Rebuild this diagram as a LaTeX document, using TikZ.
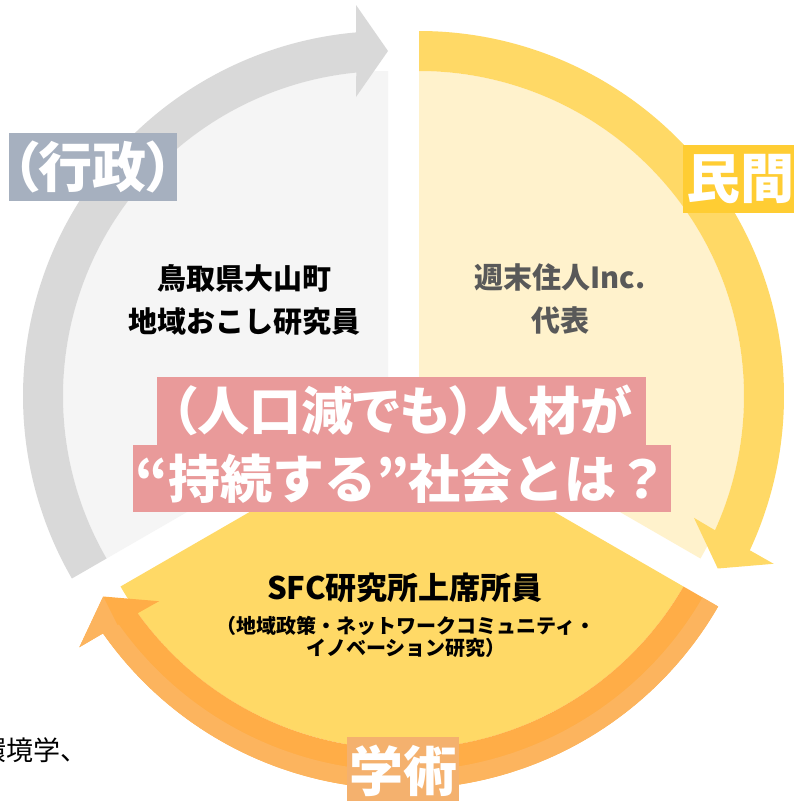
\documentclass[tikz,border=0pt]{standalone}
\usepackage{fontspec}
\newfontfamily\jp{Noto Sans CJK JP}
\newfontfamily\jpp{Noto Sans CJK JP}[RawFeature=+palt]
\usetikzlibrary{calc}
\definecolor{bandgray}{HTML}{D9D9D9}
\definecolor{palegray}{HTML}{F5F5F5}
\definecolor{paleyellow}{HTML}{FFF2CC}
\definecolor{yellowband}{HTML}{FFD966}
\definecolor{orangedark}{HTML}{FFAD47}
\definecolor{orangelight}{HTML}{FCB45E}
\definecolor{govlabel}{HTML}{A6B0BF}
\definecolor{privlabel}{HTML}{FFCD33}
\definecolor{acadlabel}{HTML}{F4B16E}
\definecolor{pinkbg}{HTML}{E99A9A}
\definecolor{textgray}{HTML}{595959}
% #1 vertex, #2 start angle, #3 end angle (tip), #4 fill
\newcommand{\cyclearrow}[4]{%
  \begin{scope}[shift={(#1)}]
    \fill[#4] ({#2}:325) -- ({#2}:365)
      arc[start angle={#2}, end angle={#3+5.0}, radius=365]
      -- ($({#3}:391)+({#3+90}:32)$) -- ({#3}:345)
      -- ($({#3}:299)+({#3+90}:32)$) -- ({#3+5.6}:325)
      arc[start angle={#3+5.6}, end angle={#2}, radius=325] -- cycle;
  \end{scope}}
\newcommand{\cyclearrowouter}[4]{%
  \begin{scope}[shift={(#1)}]
    \fill[#4] ({#2}:347) -- ({#2}:365)
      arc[start angle={#2}, end angle={#3+5.0}, radius=365]
      -- ($({#3}:391)+({#3+90}:32)$) -- ({#3}:345)
      -- ($({#3}:347)+({#3+90}:32)$) -- ({#3+5.3}:347)
      arc[start angle={#3+5.3}, end angle={#2}, radius=347] -- cycle;
  \end{scope}}
\tikzset{
  lbl/.style={inner sep=0pt, minimum height=68pt, text=white,
    font=\jpp\bfseries\fontsize{54}{54}\selectfont},
  pinkbox/.style={inner sep=0pt, minimum height=67.5pt, fill=pinkbg, text=white,
    font=\jpp\bfseries\fontsize{52}{52}\selectfont},
  bodytext/.style={align=center, inner sep=0pt,
    font=\jp\bfseries\fontsize{29}{43}\selectfont}
}
\begin{document}
\begin{tikzpicture}[x=1pt,y=1pt]
\useasboundingbox (0,0) rectangle (794,-801);
\clip (0,0) rectangle (794,-801);
\fill[white] (0,0) rectangle (794,-801);
% pie sectors
\fill[palegray] (388,-396) -- ++(90:325) arc[start angle=90, end angle=210, radius=325] -- cycle;
\fill[paleyellow] (419,-396) -- ++(-30:325) arc[start angle=-30, end angle=90, radius=325] -- cycle;
\fill[yellowband] (402,-424) -- ++(-150:325) arc[start angle=-150, end angle=-30, radius=325] -- cycle;
% curved arrows
\cyclearrow{388,-396}{210}{90}{bandgray}
\cyclearrow{419,-396}{90}{-30}{yellowband}
\cyclearrow{402,-424}{-30}{-150}{orangedark}
\cyclearrowouter{402,-424}{-30}{-150}{orangelight}
% texts in sectors
\node[bodytext] (tottori) at (244,-300) {鳥取県大山町\\地域おこし研究員};
\node[bodytext, text=textgray] (shumatsu) at (560,-299) {週末住人Inc.\\代表};
\node[bodytext, font=\jp\bfseries\fontsize{31}{31}\selectfont] (sfc) at (405,-588) {SFC研究所上席所員};
\node[bodytext, font=\jp\bfseries\fontsize{20}{22}\selectfont] (sfcsub) at (406,-637)
  {（地域政策・ネットワークコミュニティ・\\イノベーション研究）};
\node[anchor=west, inner sep=0pt, font=\jp\fontsize{27}{27}\selectfont] (kankyo) at (-21,-750) {環境学、};
% central question
\node[pinkbox, minimum width=489pt] (q1) at (401.5,-410.75) {（人口減でも）人材が};
\node[pinkbox, minimum width=538pt, font=\jp\bfseries\fontsize{52}{52}\selectfont] (q2) at (402,-478.25) {“持続する”社会とは？};
% sector labels
\node[lbl, fill=govlabel, minimum width=168pt] (gyosei) at (93,-167) {（行政）};
\node[lbl, fill=privlabel, minimum width=114pt] (minkan) at (740,-179) {民間};
\node[lbl, fill=acadlabel, minimum width=112pt] (gakujutsu) at (403,-771) {学術};
\end{tikzpicture}
\end{document}
